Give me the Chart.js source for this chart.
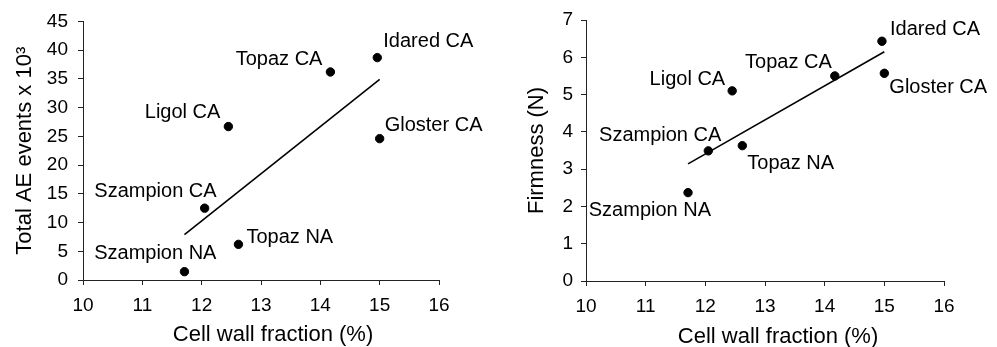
<!DOCTYPE html>
<html>
<head>
<meta charset="utf-8">
<script src="https://cdn.jsdelivr.net/npm/chart.js@4/dist/chart.umd.min.js"></script>
<style>
    body { margin: 0; background: #fff; }
    #wrap { position: relative; width: 997px; height: 347px; }
    canvas { position: absolute; top: 0; }
    #aeChart { left: 0; }
    #firmChart { left: 497px; }
</style>
</head>
<body>
<div id="wrap">
    <canvas id="aeChart" width="497" height="347"></canvas>
    <canvas id="firmChart" width="500" height="347"></canvas>
</div>
<script>
// Data
const varieties = ['Idared CA', 'Topaz CA', 'Ligol CA', 'Gloster CA', 'Szampion CA', 'Topaz NA', 'Szampion NA'];
const cellWall = [14.96, 14.17, 12.45, 15.0, 12.05, 12.62, 11.71];
const aeEvents = [38.7, 36.2, 26.7, 24.6, 12.5, 6.2, 1.45];
const firmness = [6.43, 5.50, 5.10, 5.57, 3.49, 3.63, 2.37];

// Trend line end points
const trendX = [11.71, 15.0];
const aeTrend = [7.9, 34.9];
const firmTrend = [3.14, 6.15];

// Axis ticks: min, max, step
const xTicks = [10, 16, 1];
const aeTicks = [0, 45, 5];
const firmTicks = [0, 7, 1];

const xTitle = 'Cell wall fraction (%)';
const fontFamily = 'Arial, "Liberation Sans", sans-serif';

// Where each point label sits relative to its dot: [align, dx, dy]
const aeLabelPos = [
    ['left', 6, -16], ['right', -8, -12], ['right', -8, -14], ['left', 5, -13],
    ['right', 12, -17], ['left', 8, -7], ['right', 32, -18]
];
const firmLabelPos = [
    ['left', 8, -12], ['right', -3, -13], ['right', -7, -11], ['left', 5, 14],
    ['right', 13, -15], ['left', 5, 18], ['right', 23, 18]
];

function toPoints(xs, ys) {
    return xs.map((x, i) => ({ x: x, y: ys[i] }));
}

// Plugin that writes the variety names next to the dots and the x axis title
const pointLabels = {
    id: 'pointLabels',
    afterDatasetsDraw(chart, args, opts) {
        const ctx = chart.ctx;
        const meta = chart.getDatasetMeta(0);
        ctx.save();
        ctx.fillStyle = '#000';
        ctx.font = '20px ' + fontFamily;
        ctx.textBaseline = 'middle';
        meta.data.forEach((el, i) => {
            const pos = opts.positions[i];
            ctx.textAlign = pos[0];
            ctx.fillText(varieties[i], el.x + pos[1], el.y + pos[2]);
        });

        // x axis title sits a little right of the axis centre in the original
        const area = chart.chartArea;
        ctx.font = '22px ' + fontFamily;
        ctx.textAlign = 'center';
        ctx.textBaseline = 'alphabetic';
        ctx.fillText(xTitle, (area.left + area.right) / 2 + opts.titleShift, opts.titleBaseline);
        ctx.restore();
    }
};

function makeChart(id, yValues, trendY, yTicks, yTitle, layout) {
    const ctx = document.getElementById(id).getContext('2d');
    return new Chart(ctx, {
        type: 'scatter',
        data: {
            datasets: [
                {
                    data: toPoints(cellWall, yValues),
                    backgroundColor: '#000',
                    borderColor: '#000',
                    pointRadius: 4.2,
                    pointHoverRadius: 4.2
                },
                {
                    data: toPoints(trendX, trendY),
                    showLine: true,
                    borderColor: '#000',
                    borderWidth: 1.6,
                    pointRadius: 0
                }
            ]
        },
        options: {
            responsive: false,
            animation: false,
            devicePixelRatio: 1,
            layout: {
                padding: { top: layout.top, right: layout.right, left: 0, bottom: 0 }
            },
            scales: {
                x: {
                    type: 'linear',
                    min: xTicks[0],
                    max: xTicks[1],
                    afterFit: scale => { scale.height = layout.xHeight; },
                    grid: { drawOnChartArea: false, color: '#222', tickLength: 5 },
                    border: { color: '#222', width: 1 },
                    ticks: {
                        stepSize: xTicks[2],
                        color: '#000',
                        padding: 9,
                        font: { family: fontFamily, size: 19 }
                    }
                },
                y: {
                    min: yTicks[0],
                    max: yTicks[1],
                    afterFit: scale => { scale.width = layout.yWidth; },
                    grid: { drawOnChartArea: false, color: '#222', tickLength: 5 },
                    border: { color: '#222', width: 1 },
                    ticks: {
                        stepSize: yTicks[2],
                        color: '#000',
                        padding: layout.tickPad,
                        font: { family: fontFamily, size: 19 }
                    },
                    title: {
                        display: true,
                        text: yTitle,
                        color: '#000',
                        padding: { top: layout.titlePad, bottom: 0 },
                        font: { family: fontFamily, size: 22 }
                    }
                }
            },
            plugins: {
                legend: { display: false },
                tooltip: { enabled: false },
                pointLabels: {
                    positions: layout.labels,
                    titleShift: layout.titleShift,
                    titleBaseline: layout.titleBaseline
                }
            }
        },
        plugins: [pointLabels]
    });
}

makeChart('aeChart', aeEvents, aeTrend, aeTicks, 'Total AE events x 10\u00B3', {
    top: 21, right: 58, yWidth: 83, xHeight: 67, titlePad: 12, tickPad: 10,
    titleShift: 12, titleBaseline: 341, labels: aeLabelPos
});
makeChart('firmChart', firmness, firmTrend, firmTicks, 'Firmness (N)', {
    top: 20, right: 53, yWidth: 89, xHeight: 66, titlePad: 27, tickPad: 8,
    titleShift: 13, titleBaseline: 343, labels: firmLabelPos
});
</script>
</body>
</html>
